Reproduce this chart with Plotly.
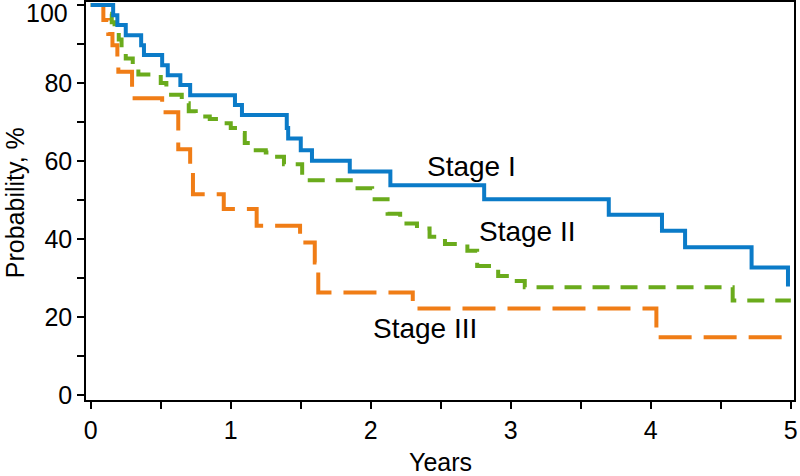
import plotly.graph_objects as go

# Stage I (solid blue)
stage1_t = [0, 0.16, 0.19, 0.25, 0.36, 0.38, 0.51, 0.55, 0.64, 0.71, 1.03, 1.08, 1.40, 1.41,
            1.50, 1.58, 1.85, 2.14, 2.81, 3.70, 4.08, 4.245, 4.72, 4.98]
stage1_p = [100, 97.4, 94.9, 92.3, 89.7, 87.2, 84.6, 82.0, 79.5, 76.9, 74.4, 71.8, 68.5, 65.8,
            62.8, 60.1, 57.3, 53.8, 50.2, 46.2, 42.1, 37.9, 32.7, 27.8]

# Stage II (short-dash green)
stage2_t = [0, 0.12, 0.15, 0.17, 0.20, 0.22, 0.25, 0.30, 0.34, 0.50, 0.54, 0.65, 0.70, 0.75,
            0.85, 0.93, 1.00, 1.07, 1.10, 1.16, 1.25, 1.31, 1.38, 1.51, 1.89, 2.01, 2.12,
            2.21, 2.33, 2.42, 2.53, 2.69, 2.76, 2.91, 3.00, 3.10, 4.585, 5.0]
stage2_p = [100, 97.8, 95.6, 93.4, 91.2, 88.5, 86.3, 84.2, 82.2, 80.0, 77.0, 74.8, 72.8, 71.4,
            70.8, 69.7, 68.5, 67.2, 64.6, 62.8, 62.2, 61.1, 59.2, 55.1, 53.0, 50.2, 46.5,
            44.0, 42.7, 40.6, 38.7, 37.0, 33.1, 30.5, 29.2, 27.6, 24.2, 24.2]

# Stage III (long-dash orange)
stage3_t = [0, 0.09, 0.125, 0.155, 0.19, 0.197, 0.295, 0.51, 0.625, 0.71, 0.73, 0.95, 1.185,
            1.495, 1.60, 1.625, 2.30, 4.04, 4.97]
stage3_p = [100, 96.2, 92.6, 89.7, 86.0, 82.9, 76.1, 72.5, 63.0, 58.0, 51.5, 47.7, 43.4,
            39.1, 34.0, 26.3, 22.2, 14.8, 14.8]

x_tickvals = [0, 0.5, 1, 1.5, 2, 2.5, 3, 3.5, 4, 4.5, 5]
x_ticktext = ["0", "", "1", "", "2", "", "3", "", "4", "", "5"]
y_tickvals = [0, 10, 20, 30, 40, 50, 60, 70, 80, 90, 100]
y_ticktext = ["0", "", "20", "", "40", "", "60", "", "80", "", ""]
y_top_label = "100"

labels = ["Stage I", "Stage II", "Stage III"]
label_x = [2.39, 2.76, 2.0]
label_y = [58.5, 41.8, 17.0]

FONT = "Liberation Sans, Arial, sans-serif"

fig = go.Figure()
fig.add_trace(go.Scatter(x=stage3_t, y=stage3_p, mode="lines", line_shape="hv",
                         line=dict(color="#f07d16", width=4, dash="33px,12px")))
fig.add_trace(go.Scatter(x=stage2_t, y=stage2_p, mode="lines", line_shape="hv",
                         line=dict(color="#6aab1c", width=4, dash="17px,11px")))
fig.add_trace(go.Scatter(x=stage1_t, y=stage1_p, mode="lines", line_shape="hv",
                         line=dict(color="#0b7bc8", width=4)))

for txt, ax_, ay_ in zip(labels, label_x, label_y):
    fig.add_annotation(x=ax_, y=ay_, text=txt, showarrow=False, xanchor="left",
                       yanchor="middle", font=dict(size=28, color="black", family=FONT))

# top y tick label, nudged down so it stays inside the page
fig.add_annotation(xref="paper", yref="paper", x=-0.022, y=0.972, text=y_top_label,
                   showarrow=False, xanchor="right", yanchor="middle",
                   font=dict(size=25, color="black", family=FONT))

# axis titles as paper-positioned annotations
fig.add_annotation(xref="paper", yref="paper", x=0.5, y=-0.155, text="Years",
                   showarrow=False, xanchor="center", yanchor="middle",
                   font=dict(size=25, color="black", family=FONT))
fig.add_annotation(xref="paper", yref="paper", x=-0.1, y=0.495, text="Probability, %",
                   showarrow=False, xanchor="center", yanchor="middle", textangle=-90,
                   font=dict(size=25, color="black", family=FONT))

fig.update_layout(
    width=800, height=476,
    margin=dict(l=86, r=6, t=2, b=76),
    plot_bgcolor="white", paper_bgcolor="white",
    showlegend=False,
    font=dict(family=FONT, size=25, color="black"),
    xaxis=dict(range=[-0.034, 5.023], tickvals=x_tickvals, ticktext=x_ticktext,
               ticks="outside", ticklen=7, tickwidth=1.5, tickcolor="black",
               showline=True, linecolor="black", linewidth=1.5, mirror=True,
               showgrid=False, zeroline=False, automargin=False,
               ticklabeloverflow="allow"),
    yaxis=dict(range=[-1.3, 100.8], tickvals=y_tickvals, ticktext=y_ticktext,
               ticks="outside", ticklen=7, tickwidth=1.5, tickcolor="black",
               showline=True, linecolor="black", linewidth=1.5, mirror=True,
               showgrid=False, zeroline=False, automargin=False,
               ticklabeloverflow="allow"),
)

fig.write_html("out.html", config={"displayModeBar": False},
               post_script="document.body.style.margin='0px';")
